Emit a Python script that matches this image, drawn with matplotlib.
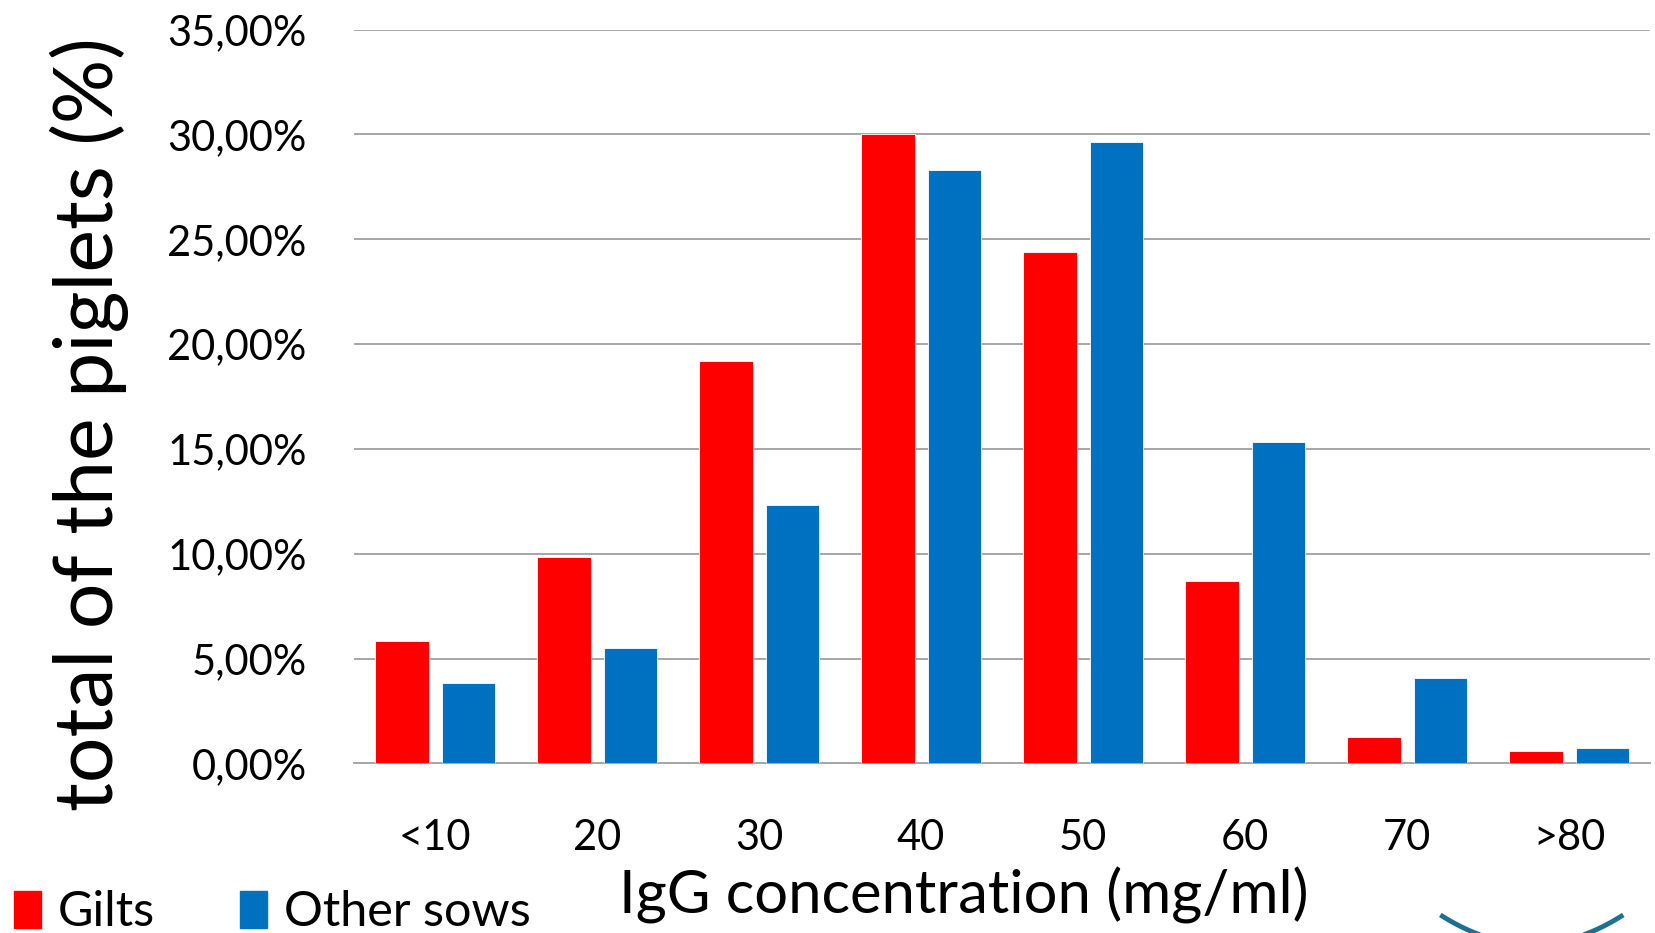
import numpy as np
import matplotlib.pyplot as plt
from matplotlib.patches import Patch
from matplotlib.ticker import FuncFormatter

categories = ['<10', '20', '30', '40', '50', '60', '70', '>80']
gilts = [5.82, 9.86, 19.21, 30.00, 24.41, 8.70, 1.28, 0.58]
other_sows = [3.85, 5.51, 12.34, 28.32, 29.63, 15.34, 4.10, 0.75]

red = '#FF0000'
blue = '#0070C0'

plt.rcParams['font.family'] = ['Lato', 'DejaVu Sans']

fig = plt.figure(figsize=(16.56, 9.33), dpi=100)
ax = fig.add_axes([0.2138, 0.1817, 0.7826, 0.7866])

x = np.arange(len(categories))
w = 0.33
ax.bar(x - 0.205, gilts, w, color=red, edgecolor='white', linewidth=0.6, zorder=3)
ax.bar(x + 0.205, other_sows, w, color=blue, edgecolor='white', linewidth=0.6, zorder=3)

ax.set_xlim(-0.5, len(categories) - 0.5)
ax.set_ylim(0, 35)
ax.set_yticks(np.arange(0, 36, 5))
ax.yaxis.set_major_formatter(FuncFormatter(lambda v, p: f'{v:.2f}%'.replace('.', ',')))
ax.set_xticks(x)
ax.set_xticklabels(categories)
ax.tick_params(axis='both', length=0, labelsize=30)
ax.tick_params(axis='y', pad=34)
ax.tick_params(axis='x', pad=40)

ax.grid(axis='y', color='#a6a6a6', linewidth=1.4, zorder=0)
for s in ['top', 'right', 'left']:
    ax.spines[s].set_visible(False)
ax.spines['bottom'].set_color('#a6a6a6')
ax.spines['bottom'].set_linewidth(1.4)

fig.text(0.054, 0.545, 'total of the piglets (%)', rotation=90,
         ha='center', va='center', fontsize=58)
fig.text(0.582, 0.04, 'IgG concentration (mg/ml)', ha='center', va='center',
         fontsize=43)

handles = [Patch(color=red, label='Gilts'), Patch(color=blue, label='Other sows')]
fig.legend(handles=handles, loc='lower left', bbox_to_anchor=(-0.018, -0.048),
           ncol=2, frameon=False, fontsize=35, handlelength=0.55,
           handleheight=0.8, handletextpad=0.35, columnspacing=1.75)

# piece of a logo swoosh cut off in the corner
t = np.linspace(-1, 1, 60)
fig.lines.append(plt.Line2D(0.925 + 0.054 * t, 0.018 - 0.03 * (1 - t ** 2),
                            transform=fig.transFigure, color='#1d6f93', linewidth=3.5))

fig.savefig('out.png', dpi=100)
